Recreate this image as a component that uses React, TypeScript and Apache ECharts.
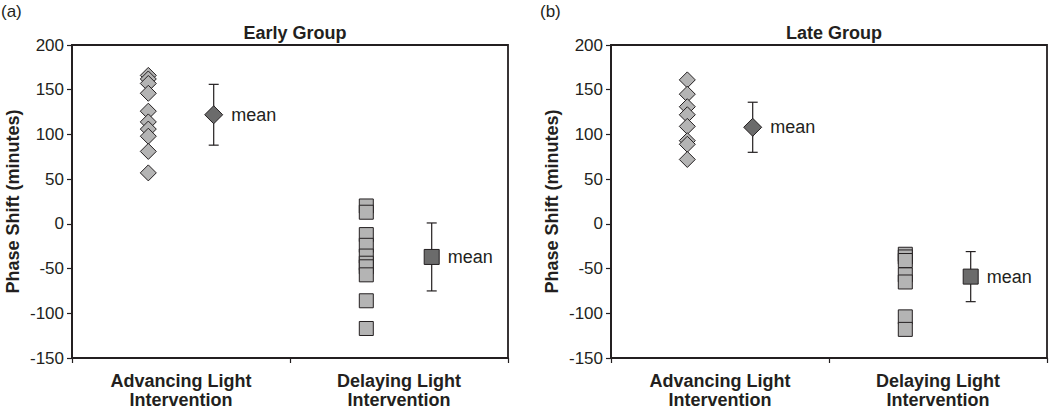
import React, { useEffect, useRef } from "react";
import * as echarts from "echarts";

const categories = ["Advancing Light\nIntervention", "Delaying Light\nIntervention"];
const panelTitles = ["Early Group", "Late Group"];
const panelTags = ["(a)", "(b)"];
const yTitle = "Phase Shift (minutes)";

const earlyAdvancing = [166, 162, 157, 146, 126, 114, 106, 98, 81, 57];
const earlyDelaying = [20, 13, -12, -24, -36, -44, -48, -57, -86, -117];
const lateAdvancing = [161, 145, 131, 122, 109, 93, 89, 72];
const lateDelaying = [-34, -37, -41, -57, -65, -104, -118];

const earlyMeans = [122, -37];
const earlyErrors = [34, 38];
const lateMeans = [108, -59];
const lateErrors = [28, 28];

const FONT = "'Liberation Sans', Arial, Helvetica, sans-serif";
const INK = "#231f20";
const LIGHT = "#b4b4b4";
const DARK = "#6b6b6b";

const panels = [
  { adv: earlyAdvancing, del: earlyDelaying, means: earlyMeans, errs: earlyErrors, left: 72 },
  { adv: lateAdvancing, del: lateDelaying, means: lateMeans, errs: lateErrors, left: 611 },
];

function buildOption() {
  const grid: any[] = [];
  const xAxis: any[] = [];
  const yAxis: any[] = [];
  const series: any[] = [];
  const title: any[] = [];
  const graphic: any[] = [];

  panels.forEach((p, i) => {
    grid.push({
      left: p.left,
      top: 45,
      width: 436,
      height: 315,
      show: true,
      borderColor: INK,
      borderWidth: 1.8,
      backgroundColor: "transparent",
    });
    xAxis.push({
      type: "category",
      gridIndex: i,
      position: "bottom",
      data: categories,
      boundaryGap: true,
      axisLine: { show: true, onZero: false, lineStyle: { color: INK, width: 1.8 } },
      axisTick: { show: true, length: 5, lineStyle: { color: INK, width: 1.2 } },
      axisLabel: {
        fontFamily: FONT,
        fontSize: 18,
        fontWeight: "bold",
        color: INK,
        margin: 13,
        lineHeight: 19,
      },
      splitLine: { show: false },
    });
    xAxis.push({
      type: "value",
      gridIndex: i,
      min: 0,
      max: 4,
      show: false,
    });
    yAxis.push({
      type: "value",
      gridIndex: i,
      min: -150,
      max: 200,
      interval: 50,
      axisLine: { show: true, lineStyle: { color: INK, width: 1.8 } },
      axisTick: { show: true, length: 5, lineStyle: { color: INK, width: 1.2 } },
      axisLabel: { fontFamily: FONT, fontSize: 17, color: INK, margin: 8 },
      splitLine: { show: false },
      name: yTitle,
      nameLocation: "middle",
      nameRotate: 90,
      nameGap: 50,
      nameTextStyle: { fontFamily: FONT, fontSize: 18, fontWeight: "bold", color: INK },
    });

    const xi = i * 2 + 1;
    series.push({
      type: "scatter",
      xAxisIndex: xi,
      yAxisIndex: i,
      symbol: "diamond",
      symbolSize: 16,
      itemStyle: { color: LIGHT, borderColor: INK, borderWidth: 1, opacity: 1 },
      data: p.adv.map((v) => [0.7, v]),
      z: 3,
    });
    series.push({
      type: "scatter",
      xAxisIndex: xi,
      yAxisIndex: i,
      symbol: "rect",
      symbolSize: 14,
      itemStyle: { color: LIGHT, borderColor: INK, borderWidth: 1, opacity: 1 },
      data: p.del.map((v) => [2.7, v]),
      z: 3,
    });
    series.push({
      type: "custom",
      xAxisIndex: xi,
      yAxisIndex: i,
      z: 2,
      data: p.means.map((m, k) => [k * 2 + 1.3, m, m - p.errs[k], m + p.errs[k]]),
      renderItem: (params: any, api: any) => {
        const x = api.value(0);
        const lo = api.coord([x, api.value(2)]);
        const hi = api.coord([x, api.value(3)]);
        const style = { stroke: INK, lineWidth: 1.2 };
        return {
          type: "group",
          children: [
            { type: "line", shape: { x1: lo[0], y1: lo[1], x2: hi[0], y2: hi[1] }, style },
            { type: "line", shape: { x1: lo[0] - 5, y1: lo[1], x2: lo[0] + 5, y2: lo[1] }, style },
            { type: "line", shape: { x1: hi[0] - 5, y1: hi[1], x2: hi[0] + 5, y2: hi[1] }, style },
          ],
        };
      },
    });
    series.push({
      type: "scatter",
      xAxisIndex: xi,
      yAxisIndex: i,
      z: 4,
      itemStyle: { color: DARK, borderColor: INK, borderWidth: 1, opacity: 1 },
      label: {
        show: true,
        position: "right",
        distance: 8,
        formatter: "mean",
        fontFamily: FONT,
        fontSize: 18,
        color: INK,
      },
      data: p.means.map((m, k) => ({
        value: [k * 2 + 1.3, m],
        symbol: k === 0 ? "diamond" : "rect",
        symbolSize: k === 0 ? 18 : 15,
      })),
    });

    title.push({
      text: panelTitles[i],
      left: p.left + 218,
      textAlign: "center",
      top: 19,
      textStyle: { fontFamily: FONT, fontSize: 18, fontWeight: "bold", color: INK },
    });
    graphic.push({
      type: "text",
      left: i === 0 ? 1 : 540,
      top: 3,
      style: { text: panelTags[i], font: `17px ${FONT}`, fill: INK },
    });
  });

  return {
    animation: false,
    backgroundColor: "#ffffff",
    title,
    grid,
    xAxis,
    yAxis,
    series,
    graphic,
  };
}

export default function App() {
  const ref = useRef<HTMLDivElement>(null);
  useEffect(() => {
    if (!ref.current) return;
    const chart = echarts.init(ref.current, null, { renderer: "svg" });
    chart.setOption(buildOption() as any);
    return () => chart.dispose();
  }, []);
  return (
    <div
      ref={ref}
      style={{ position: "absolute", left: 0, top: 0, width: 1050, height: 409 }}
    />
  );
}
